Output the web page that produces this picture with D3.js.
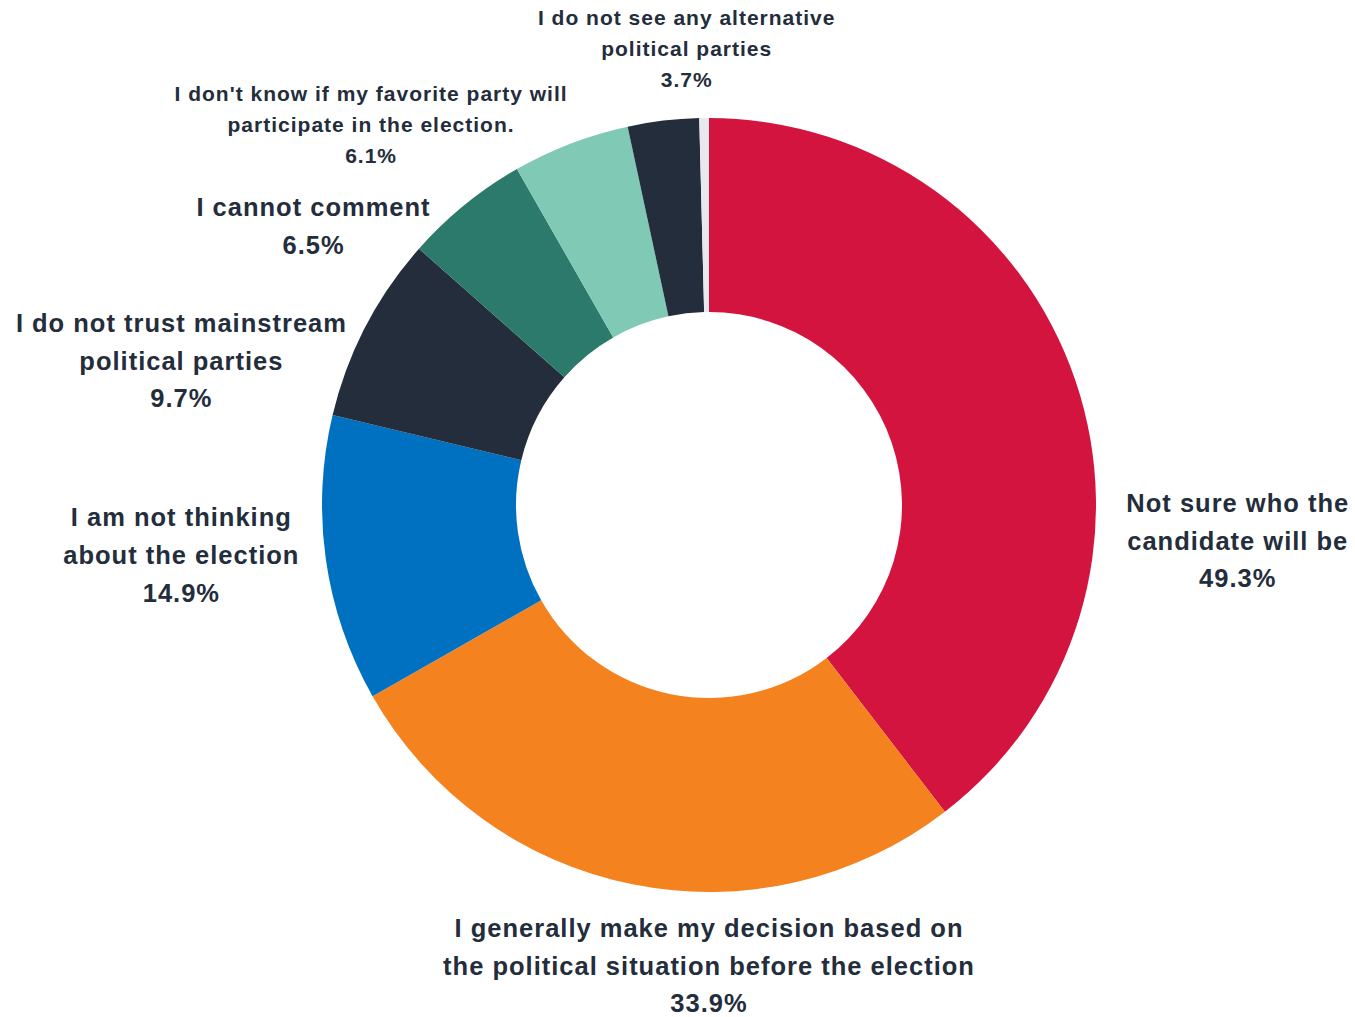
<!DOCTYPE html>
<html>
<head>
<meta charset="utf-8">
<script src="https://cdn.jsdelivr.net/npm/d3@7"></script>
<style>
  html, body { margin: 0; padding: 0; background: #ffffff; }
  svg { display: block; }
  .lbl { font-family: "Liberation Sans", Arial, Helvetica, sans-serif; font-weight: bold; fill: #232d3b; }
</style>
</head>
<body>
<svg id="chart" width="1355" height="1017"></svg>
<script>
// Survey answers (multiple choice, so shares add up to more than 100%)
const categories = [
  "Not sure who the candidate will be",
  "I generally make my decision based on the political situation before the election",
  "I am not thinking about the election",
  "I do not trust mainstream political parties",
  "I cannot comment",
  "I don't know if my favorite party will participate in the election.",
  "I do not see any alternative political parties",
  "Other"
];
const values = [49.3, 33.9, 14.9, 9.7, 6.5, 6.1, 3.7, 0.5];
const showLabel = [true, true, true, true, true, true, true, false];

// Label text broken into lines
const labelLines = [
  ["Not sure who the", "candidate will be"],
  ["I generally make my decision based on", "the political situation before the election"],
  ["I am not thinking", "about the election"],
  ["I do not trust mainstream", "political parties"],
  ["I cannot comment"],
  ["I don't know if my favorite party will", "participate in the election."],
  ["I do not see any alternative", "political parties"],
  []
];

const colors = ["#d3143f", "#f4821f", "#0070c0", "#242d3c", "#2b7a6b", "#80c9b4", "#242d3c", "#e8e9ee"];

// Label placement around the ring: angle (deg, clockwise from top), distance from centre
const labelAngle = [93.9, 180, 264.6, 285.3, 305.2, 318.4, 357.2, 0];
const labelDist  = [530, 461, 530, 547, 484, 509, 457, 0];
const labelSize  = [25.5, 25.5, 25.5, 25.5, 25.5, 21, 21, 0];
const labelLead  = [37.5, 37.5, 38, 37.5, 38, 31, 31, 0];

const W = 1355, H = 1017;
const cx = 709, cy = 505;
const outerR = 387, innerR = 193;

const svg = d3.select("#chart");
const g = svg.append("g").attr("transform", `translate(${cx},${cy})`);

const data = categories.map((c, i) => ({ name: c, value: values[i], i }));

const pie = d3.pie().value(d => d.value).sort(null);
const arc = d3.arc().innerRadius(innerR).outerRadius(outerR);

const arcs = pie(data);

g.selectAll("path.slice")
  .data(arcs)
  .join("path")
  .attr("class", "slice")
  .attr("d", arc)
  .attr("fill", d => colors[d.data.i]);

// Labels: name lines followed by the percentage
const fmt = d3.format(".1f");
const labels = g.selectAll("text.lbl")
  .data(arcs.filter(d => showLabel[d.data.i]))
  .join("text")
  .attr("class", "lbl")
  .attr("text-anchor", "middle")
  .style("font-size", d => labelSize[d.data.i] + "px")
  .style("letter-spacing", "1px");

labels.each(function(d) {
  const i = d.data.i;
  const a = labelAngle[i] * Math.PI / 180;
  const r = labelDist[i];
  const x = r * Math.sin(a);
  const y = -r * Math.cos(a);
  const lines = labelLines[i].concat([fmt(values[i]) + "%"]);
  const n = lines.length;
  const lh = labelLead[i];
  d3.select(this).selectAll("tspan")
    .data(lines)
    .join("tspan")
    .attr("x", x)
    .attr("y", (t, k) => y + (k - (n - 1) / 2) * lh)
    .attr("dy", "0.35em")
    .text(t => t);
});
</script>
</body>
</html>
